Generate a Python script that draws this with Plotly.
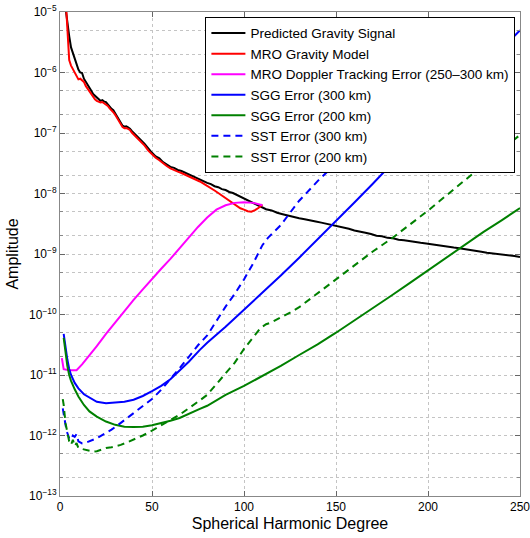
import plotly.graph_objects as go

# ---------------- data ----------------
signal_deg = [2, 3, 4, 5, 6, 7, 8, 9, 10, 11, 12, 13, 14, 15, 16, 17, 18, 19, 20, 21, 22, 23, 24, 25,
              26, 27, 28, 29, 30, 31, 32, 33, 34, 35, 36, 37, 38, 39, 40, 42, 44, 46, 48, 50, 52, 54,
              56, 58, 60, 62, 64, 66, 68, 70, 72, 74, 76, 78, 80, 82, 84, 86, 88, 90, 92, 94, 96, 98,
              100, 103, 106, 109, 112, 115, 118, 121, 124, 127, 130, 133, 136, 139, 142, 145, 148, 151,
              154, 157, 160, 163, 166, 169, 172, 175, 178, 181, 184, 187, 190, 193, 196, 199, 202, 205,
              208, 211, 214, 217, 220, 223, 226, 229, 232, 235, 238, 241, 244, 247, 250]
signal_amp = [2.0e-5, 1.12e-5, 6.3e-6, 4.0e-6, 2.6e-6, 2.1e-6, 1.66e-6, 1.45e-6, 1.12e-6, 1.0e-6, 9.8e-7,
              7.9e-7, 7.1e-7, 6.5e-7, 5.6e-7, 5.0e-7, 4.4e-7, 4.1e-7, 3.8e-7, 3.6e-7, 3.4e-7, 3.5e-7,
              3.3e-7, 3.25e-7, 2.95e-7, 2.75e-7, 2.5e-7, 2.38e-7, 2.1e-7, 1.92e-7, 1.66e-7, 1.47e-7,
              1.32e-7, 1.27e-7, 1.29e-7, 1.24e-7, 1.18e-7, 1.08e-7, 1.0e-7, 8.8e-8, 7.6e-8, 6.6e-8,
              5.5e-8, 4.7e-8, 4.1e-8, 3.8e-8, 3.3e-8, 3.05e-8, 2.75e-8, 2.65e-8, 2.45e-8, 2.35e-8,
              2.2e-8, 2.08e-8, 1.92e-8, 1.84e-8, 1.7e-8, 1.6e-8, 1.5e-8, 1.43e-8, 1.32e-8, 1.27e-8,
              1.18e-8, 1.14e-8, 1.06e-8, 1.02e-8, 9.5e-9, 8.9e-9, 8.3e-9, 7.4e-9, 6.6e-9, 6.0e-9, 5.5e-9,
              5.25e-9, 4.8e-9, 4.55e-9, 4.3e-9, 4.05e-9, 3.9e-9, 3.75e-9, 3.55e-9, 3.45e-9, 3.3e-9,
              3.15e-9, 3.0e-9, 2.92e-9, 2.75e-9, 2.62e-9, 2.45e-9, 2.38e-9, 2.25e-9, 2.14e-9, 2.0e-9,
              1.97e-9, 1.85e-9, 1.82e-9, 1.72e-9, 1.69e-9, 1.62e-9, 1.58e-9, 1.53e-9, 1.49e-9, 1.44e-9,
              1.41e-9, 1.36e-9, 1.33e-9, 1.28e-9, 1.25e-9, 1.2e-9, 1.17e-9, 1.12e-9, 1.09e-9, 1.05e-9,
              1.03e-9, 0.99e-9, 0.98e-9, 0.95e-9, 0.93e-9, 0.89e-9]

mro_deg = [3, 4, 5, 6, 7, 8, 9, 10, 11, 12, 13, 14, 15, 16, 17, 18, 19, 20, 21, 22, 23, 24, 25, 26, 27,
           28, 29, 30, 31, 32, 33, 34, 35, 36, 37, 38, 39, 40, 42, 44, 46, 48, 50, 52, 54, 56, 58, 60,
           62, 64, 66, 68, 70, 72, 74, 76, 78, 80, 82, 84, 86, 88, 90, 92, 94, 96, 98, 100, 102, 104,
           106, 108, 110]
mro_amp = [1.8e-5, 6.0e-6, 1.6e-6, 1.3e-6, 1.15e-6, 1.0e-6, 8.5e-7, 7.7e-7, 7.9e-7, 7.4e-7, 7.0e-7,
           6.0e-7, 5.4e-7, 5.0e-7, 4.5e-7, 4.0e-7, 3.6e-7, 3.4e-7, 3.3e-7, 3.2e-7, 3.25e-7, 3.1e-7,
           3.0e-7, 2.8e-7, 2.55e-7, 2.4e-7, 2.2e-7, 2.0e-7, 1.8e-7, 1.58e-7, 1.4e-7, 1.25e-7, 1.2e-7,
           1.21e-7, 1.17e-7, 1.12e-7, 1.02e-7, 9.5e-8, 8.3e-8, 7.2e-8, 6.2e-8, 5.1e-8, 4.4e-8, 3.9e-8,
           3.55e-8, 3.15e-8, 2.85e-8, 2.6e-8, 2.48e-8, 2.3e-8, 2.18e-8, 2.05e-8, 1.92e-8, 1.8e-8,
           1.72e-8, 1.58e-8, 1.46e-8, 1.35e-8, 1.25e-8, 1.12e-8, 1.02e-8, 9.3e-9, 8.5e-9, 7.6e-9,
           6.9e-9, 6.3e-9, 5.7e-9, 5.4e-9, 5.1e-9, 5.0e-9, 5.3e-9, 5.8e-9, 6.6e-9]

doppler_deg = [1, 2, 5, 9, 12, 16, 20, 25, 30, 35, 40, 45, 50, 55, 60, 65, 70, 75, 80, 85, 90, 95,
               100, 105, 110]
doppler_amp = [1.9e-11, 1.25e-11, 1.2e-11, 1.2e-11, 1.5e-11, 2.1e-11, 3.0e-11, 4.8e-11, 7.5e-11,
               1.15e-10, 1.75e-10, 2.6e-10, 3.9e-10, 5.7e-10, 8.3e-10, 1.25e-9, 1.85e-9, 2.8e-9,
               4.0e-9, 5.4e-9, 6.4e-9, 7.0e-9, 7.2e-9, 7.0e-9, 6.4e-9]

sgg300_deg = [2, 3, 4, 5, 6, 8, 10, 13, 16, 20, 25, 30, 35, 40, 45, 50, 55, 60, 65, 70, 76, 80, 90,
              100, 110, 120, 130, 140, 150, 160, 170, 180, 190, 200, 210, 220, 230, 240, 250]
sgg300_amp = [4.8e-11, 2.8e-11, 1.8e-11, 1.26e-11, 1.0e-11, 7.4e-12, 6.0e-12, 4.8e-12, 4.2e-12,
              3.6e-12, 3.4e-12, 3.45e-12, 3.6e-12, 3.9e-12, 4.5e-12, 5.4e-12, 6.6e-12, 8.5e-12,
              1.17e-11, 1.66e-11, 2.6e-11, 3.4e-11, 6.3e-11, 1.2e-10, 2.3e-10, 4.4e-10, 8.7e-10,
              1.74e-9, 3.47e-9, 7.1e-9, 1.45e-8, 3.0e-8, 6.3e-8, 1.32e-7, 2.75e-7, 5.75e-7,
              1.17e-6, 2.4e-6, 5.0e-6]

sgg200_deg = [2, 3, 4, 5, 6, 8, 10, 13, 16, 20, 25, 30, 35, 40, 45, 50, 55, 60, 65, 70, 76, 80, 90,
              100, 110, 120, 130, 140, 150, 160, 170, 180, 190, 200, 210, 220, 230, 240, 250]
sgg200_amp = [4.1e-11, 2.2e-11, 1.4e-11, 1.0e-11, 8.0e-12, 5.8e-12, 4.4e-12, 3.2e-12, 2.5e-12,
              2.05e-12, 1.7e-12, 1.5e-12, 1.4e-12, 1.38e-12, 1.4e-12, 1.48e-12, 1.6e-12, 1.75e-12,
              1.95e-12, 2.25e-12, 2.75e-12, 3.1e-12, 4.7e-12, 6.6e-12, 9.5e-12, 1.41e-11, 2.14e-11,
              3.2e-11, 5.0e-11, 7.9e-11, 1.26e-10, 2.04e-10, 3.3e-10, 5.4e-10, 8.7e-10, 1.41e-9,
              2.3e-9, 3.6e-9, 5.75e-9]

sst300_deg = [1.5, 2, 3, 4, 5, 6, 7, 8, 9, 10, 11, 12, 14, 16, 18, 20, 22, 25, 28, 31, 34, 37, 40, 43,
              46, 50, 55, 60, 65, 70, 75, 80, 85, 90, 95, 100, 105, 110, 113, 116, 120, 125, 130, 140,
              148, 155, 163, 170, 180, 190, 200]
sst300_amp = [2.8e-12, 2.2e-12, 1.5e-12, 1.1e-12, 9.0e-13, 8.5e-13, 1.0e-12, 9.5e-13, 1.05e-12, 8.0e-13,
              7.6e-13, 7.4e-13, 7.6e-13, 8.0e-13, 8.5e-13, 9.0e-13, 9.8e-13, 1.1e-12, 1.25e-12, 1.45e-12,
              1.7e-12, 2.0e-12, 2.3e-12, 2.7e-12, 3.2e-12, 4.0e-12, 5.7e-12, 8.5e-12, 1.3e-11, 2.0e-11,
              3.1e-11, 4.5e-11, 8.0e-11, 1.35e-10, 2.2e-10, 3.8e-10, 7.0e-10, 1.4e-9, 1.85e-9, 2.3e-9,
              3.0e-9, 4.8e-9, 7.6e-9, 1.6e-8, 2.75e-8, 4.2e-8, 6.8e-8, 1.05e-7, 1.9e-7, 3.4e-7, 6.2e-7]

sst200_deg = [1.5, 2, 3, 4, 5, 6, 7, 8, 9, 10, 12, 14, 16, 18, 20, 22, 25, 28, 30, 33, 36, 40, 45, 50,
              55, 60, 65, 70, 76, 80, 85, 90, 95, 100, 105, 109, 112, 115, 120, 125, 130, 140, 150, 160,
              170, 180, 190, 200, 210, 220, 230, 240, 250]
sst200_amp = [4.0e-12, 3.2e-12, 1.6e-12, 1.1e-12, 8.0e-13, 7.0e-13, 8.5e-13, 6.7e-13, 7.5e-13, 6.2e-13,
              6.0e-13, 5.8e-13, 5.5e-13, 5.4e-13, 5.5e-13, 5.8e-13, 6.2e-13, 6.4e-13, 6.6e-13, 7.0e-13,
              7.6e-13, 8.5e-13, 1.0e-12, 1.2e-12, 1.45e-12, 1.8e-12, 2.2e-12, 2.8e-12, 3.8e-12, 4.7e-12,
              7.0e-12, 1.05e-11, 1.6e-11, 2.7e-11, 4.3e-11, 6.0e-11, 6.9e-11, 7.4e-11, 9.0e-11, 1.07e-10,
              1.32e-10, 2.24e-10, 3.8e-10, 6.3e-10, 1.1e-9, 1.78e-9, 3.0e-9, 5.2e-9, 9.3e-9, 1.66e-8,
              2.95e-8, 5.2e-8, 9.3e-8]

y_tick_vals = [1e-13, 1e-12, 1e-11, 1e-10, 1e-9, 1e-8, 1e-7, 1e-6, 1e-5]
y_tick_text = ["10<sup>\u221213</sup>", "10<sup>\u221212</sup>", "10<sup>\u221211</sup>",
               "10<sup>\u221210</sup>", "10<sup>\u22129</sup>", "10<sup>\u22128</sup>",
               "10<sup>\u22127</sup>", "10<sup>\u22126</sup>", "10<sup>\u22125</sup>"]
x_tick_vals = [0, 50, 100, 150, 200, 250]

# ---------------- figure ----------------
series = [
    ("Predicted Gravity Signal", signal_deg, signal_amp, "black", "solid"),
    ("MRO Gravity Model", mro_deg, mro_amp, "#ff0000", "solid"),
    ("MRO Doppler Tracking Error (250\u2013300 km)", doppler_deg, doppler_amp, "#ff00ff", "solid"),
    ("SGG Error (300 km)", sgg300_deg, sgg300_amp, "#0000ff", "solid"),
    ("SGG Error (200 km)", sgg200_deg, sgg200_amp, "#008000", "solid"),
    ("SST Error (300 km)", sst300_deg, sst300_amp, "#0000ff", "7px,5px"),
    ("SST Error (200 km)", sst200_deg, sst200_amp, "#008000", "7px,5px"),
]

fig = go.Figure()
for name, xs, ys, color, dash in series:
    fig.add_trace(go.Scatter(x=xs, y=ys, mode="lines", name=name,
                             line=dict(color=color, width=2, dash=dash)))

font_family = "Liberation Sans, Arial, Helvetica, sans-serif"
grid_col = "#c4c4c4"

fig.update_layout(
    width=530, height=538,
    margin=dict(l=60, r=10, t=12, b=42, autoexpand=False),
    paper_bgcolor="white", plot_bgcolor="white",
    font=dict(family=font_family, color="black", size=12),
    showlegend=True,
    legend=dict(x=0.99, y=0.99, xanchor="right", yanchor="top",
                bgcolor="white", bordercolor="black", borderwidth=1,
                font=dict(size=13.5, family=font_family), tracegroupgap=0,
                itemwidth=34),
)
fig.update_xaxes(
    range=[0, 250], tickvals=x_tick_vals, ticks="inside", ticklen=5, tickcolor="#666",
    showline=True, linecolor="#888", linewidth=1, mirror="ticks",
    showgrid=True, gridcolor=grid_col, griddash="dot", gridwidth=1, zeroline=False,
    tickfont=dict(size=12), ticklabeloverflow="allow", automargin=False,
    title=dict(text="Spherical Harmonic Degree", font=dict(size=16), standoff=4),
)
fig.update_yaxes(
    type="log", range=[-13, -5], tickvals=y_tick_vals, ticktext=y_tick_text,
    ticks="inside", ticklen=5, tickcolor="#666",
    showline=True, linecolor="#888", linewidth=1, mirror="ticks",
    showgrid=True, gridcolor=grid_col, griddash="dot", gridwidth=1, zeroline=False,
    minor=dict(ticks="inside", ticklen=3, tickcolor="#888", showgrid=True,
               gridcolor=grid_col, griddash="dot", gridwidth=1),
    tickfont=dict(size=12), ticklabeloverflow="allow", automargin=False,
    title=dict(text="Amplitude", font=dict(size=16), standoff=6),
)

# remove the default page margin/scrollbars so the 530x538 figure fills the window exactly
page_css = ("document.documentElement.style.overflow='hidden';"
            "document.body.style.overflow='hidden';"
            "document.body.style.margin='0px';")
fig.write_html("out.html", config={"displayModeBar": False}, post_script=page_css)
